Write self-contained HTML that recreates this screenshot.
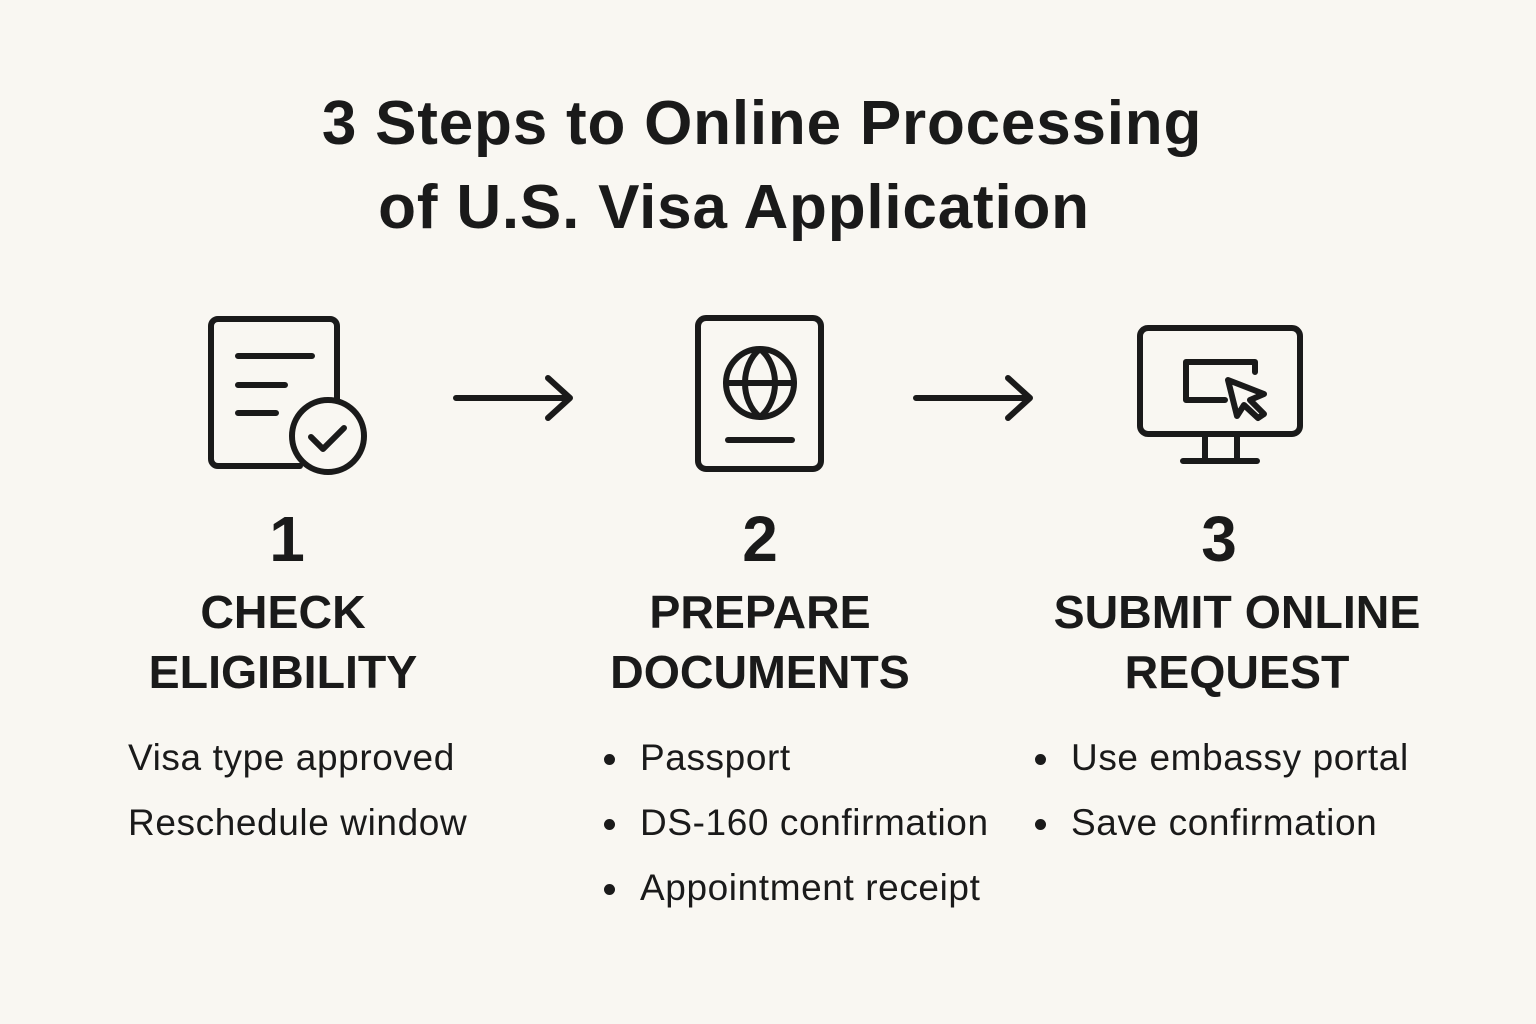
<!DOCTYPE html>
<html><head><meta charset="utf-8"><style>
body{margin:0;width:1536px;height:1024px;background:#f9f7f2;font-family:"Liberation Sans",sans-serif;color:#1a1a1a;position:relative;overflow:hidden}
.a{position:absolute;white-space:nowrap}
.t{font-size:62px;font-weight:bold;letter-spacing:0.8px}
.n{font-size:64px;font-weight:bold;text-align:center;width:200px}
.h{font-size:46.5px;font-weight:bold;text-align:center;width:500px;line-height:60px}
.b{font-size:37px;line-height:65px;letter-spacing:0.6px}
.dot{position:absolute;width:11px;height:11px;border-radius:50%;background:#1a1a1a}
</style></head><body>
<div class="a t" style="left:0;width:1524px;text-align:center;top:88px">3 Steps to Online Processing</div>
<div class="a t" style="left:0;width:1468px;text-align:center;top:172px">of U.S. Visa Application</div>

<svg class="a" style="left:0;top:0" width="1536" height="1024" fill="none" stroke="#1a1a1a" stroke-width="6" stroke-linecap="round" stroke-linejoin="round">
<path d="M300 466 H218 a7 7 0 0 1 -7 -7 V326 a7 7 0 0 1 7 -7 H330 a7 7 0 0 1 7 7 V400"/>
<path d="M238 356 H312 M238 385 H285 M238 413 H276"/>
<circle cx="328" cy="436" r="36"/>
<path d="M311 437 L323 449 L344 428"/>
<path d="M456 398 H568 M548 378 L570 398 L548 418"/>
<rect x="698" y="318" width="123" height="151" rx="8"/>
<circle cx="760" cy="383" r="34"/>
<path d="M726 383 H794 M760 349 C740 365 740 401 760 417 M760 349 C780 365 780 401 760 417"/>
<path d="M728 440 H792"/>
<path d="M916 398 H1028 M1008 378 L1030 398 L1008 418"/>
<rect x="1140" y="328" width="160" height="106" rx="8"/>
<path d="M1205 434 V460 M1237 434 V460 M1183 461 H1257"/>
<path d="M1225 400 H1186 V362 H1255 V372"/>
<path d="M1228 380 L1264 394 L1250 400 L1264 414 L1258 418 L1244 405 L1237 416 Z"/>
</svg>

<div class="a n" style="left:187px;top:502px">1</div>
<div class="a n" style="left:660px;top:502px">2</div>
<div class="a n" style="left:1119px;top:502px">3</div>

<div class="a h" style="left:33px;top:582px">CHECK<br>ELIGIBILITY</div>
<div class="a h" style="left:510px;top:582px">PREPARE<br>DOCUMENTS</div>
<div class="a h" style="left:987px;top:582px">SUBMIT ONLINE<br>REQUEST</div>

<div class="a b" style="left:128px;top:725px">Visa type approved<br>Reschedule window</div>
<div class="a b" style="left:640px;top:725px">Passport<br>DS-160 confirmation<br>Appointment receipt</div>
<div class="a b" style="left:1071px;top:725px">Use embassy portal<br>Save confirmation</div>
<div class="dot" style="left:604px;top:754px"></div>
<div class="dot" style="left:604px;top:819px"></div>
<div class="dot" style="left:604px;top:884px"></div>
<div class="dot" style="left:1035px;top:754px"></div>
<div class="dot" style="left:1035px;top:819px"></div>
</body></html>
